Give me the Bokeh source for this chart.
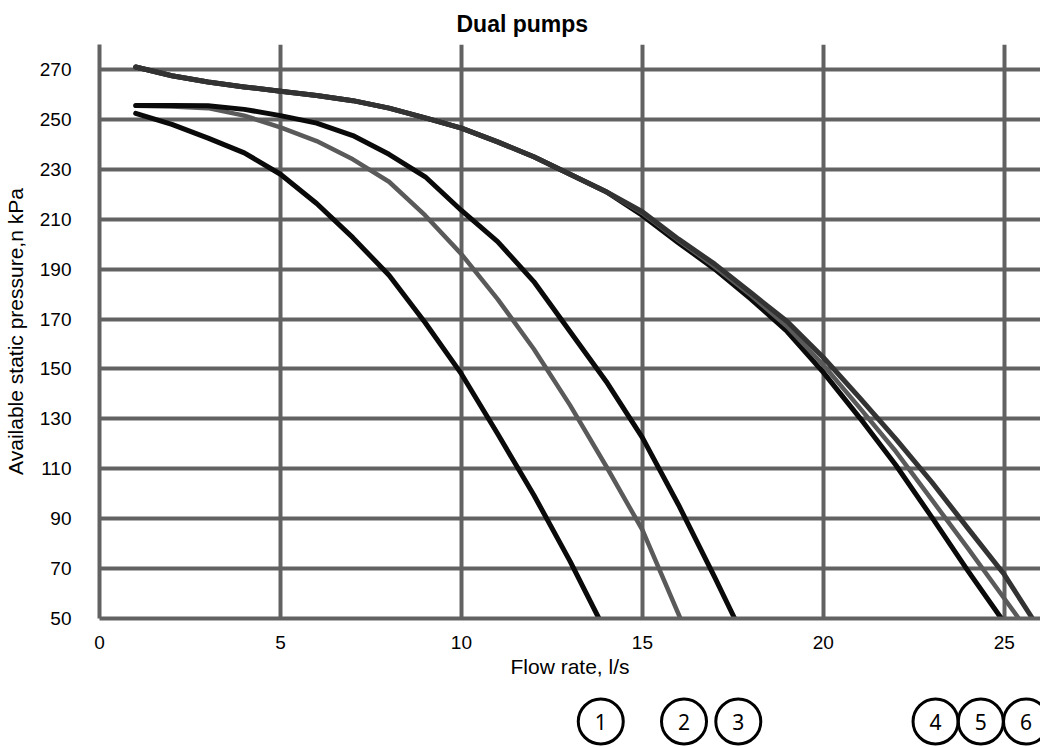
from bokeh.plotting import figure
from bokeh.models import FixedTicker, Range1d
from bokeh.layouts import column
from bokeh.embed import file_html
from bokeh.resources import INLINE
from bokeh.core.properties import value

# ---- data ----
x_ticks = [0, 5, 10, 15, 20, 25]
y_ticks = [50, 70, 90, 110, 130, 150, 170, 190, 210, 230, 250, 270]

flow_1 = [1, 2, 3, 4, 5, 6, 7, 8, 9, 10, 11, 12, 13, 13.8]
pres_1 = [252.4, 248, 242.5, 236.6, 228, 216.3, 202.6, 187.5, 168.5, 148, 124, 99.5, 73, 50]

flow_2 = [1, 2, 3, 4, 5, 6, 7, 8, 9, 10, 11, 12, 13, 14, 15, 16.05]
pres_2 = [255.5, 255.2, 254.5, 251.5, 246.8, 241.3, 234, 225, 211.5, 196, 178, 158, 135.5, 111, 85.5, 50]

flow_3 = [1, 2, 3, 4, 5, 6, 7, 8, 9, 10, 11, 12, 13, 14, 15, 16, 17, 17.55]
pres_3 = [255.6, 255.6, 255.5, 254, 251.5, 248.5, 243.5, 236, 227, 213.5, 201, 185, 165, 145, 122.5, 95.5, 66.5, 50]

flow_4 = [1, 2, 3, 4, 5, 6, 7, 8, 9, 10, 11, 12, 13, 14, 15, 16, 17, 18, 19, 20, 21, 22, 23, 24, 24.92]
pres_4 = [271, 267.5, 265, 263, 261.3, 259.6, 257.5, 254.5, 250.6, 246.5, 241, 235, 228, 221,
          211.5, 200.5, 190, 178, 165, 148.6, 130.5, 111.5, 90.5, 69, 50]

flow_5 = [1, 2, 3, 4, 5, 6, 7, 8, 9, 10, 11, 12, 13, 14, 15, 16, 17, 18, 19, 20, 21, 22, 23, 24, 25, 25.4]
pres_5 = [271, 267.5, 265, 263, 261.3, 259.6, 257.5, 254.5, 250.6, 246.5, 241, 235, 228, 221,
          212.5, 201.5, 191, 179.5, 167, 151.6, 134.5, 117, 97.5, 78, 58, 50]

flow_6 = [1, 2, 3, 4, 5, 6, 7, 8, 9, 10, 11, 12, 13, 14, 15, 16, 17, 18, 19, 20, 21, 22, 23, 24, 25, 25.78]
pres_6 = [271, 267.5, 265, 263, 261.3, 259.6, 257.5, 254.5, 250.6, 246.5, 241, 235, 228, 221,
          213, 202, 192, 180.5, 169, 154.6, 138.5, 122, 104.6, 86, 67.6, 50]

curve_labels = ["1", "2", "3", "4", "5", "6"]
label_x = [13.85, 16.15, 17.65, 23.1, 24.35, 25.6]

GRID = "#626262"
FONT = "Liberation Sans"

p = figure(width=1040, height=682, x_range=Range1d(0, 26), y_range=Range1d(50, 280),
           output_backend="svg", toolbar_location=None,
           min_border_left=98, min_border_right=0, min_border_top=43, min_border_bottom=64)
p.outline_line_color = None
p.background_fill_color = "white"
p.border_fill_color = "white"

p.title.text = "Dual pumps"
p.title.align = "left"
p.title.offset = 357
p.title.text_font = FONT
p.title.text_font_size = "23px"
p.title.text_font_style = "bold"
p.title.text_color = "black"
p.title.standoff = 16

p.xaxis.ticker = FixedTicker(ticks=x_ticks)
p.yaxis.ticker = FixedTicker(ticks=y_ticks)
p.xgrid.ticker = FixedTicker(ticks=x_ticks)
p.ygrid.ticker = FixedTicker(ticks=y_ticks)
for g in (p.xgrid, p.ygrid):
    g.grid_line_color = GRID
    g.grid_line_width = 4
    g.grid_line_alpha = 1.0

for ax in (p.xaxis, p.yaxis):
    ax.axis_line_color = GRID
    ax.axis_line_width = 4
    ax.major_tick_line_color = None
    ax.minor_tick_line_color = None
    ax.major_label_text_font = FONT
    ax.major_label_text_font_size = "19px"
    ax.major_label_text_color = "black"
    ax.axis_label_text_font = FONT
    ax.axis_label_text_font_size = "21px"
    ax.axis_label_text_font_style = "normal"
    ax.axis_label_text_color = "black"

p.xaxis.axis_label = "Flow rate, l/s"
p.yaxis.axis_label = "Available static pressure,n kPa"
p.xaxis.major_label_standoff = 11
p.xaxis.axis_label_standoff = 3
p.yaxis.major_label_standoff = 22
p.yaxis.axis_label_standoff = 10

BLACK = "#0a0a0a"
GRAY = "#5a5a5a"
DARK = "#333333"
LW = 5

p.line(flow_1, pres_1, line_color=BLACK, line_width=LW, line_join="round", line_cap="round")
p.line(flow_2, pres_2, line_color=GRAY, line_width=LW - 0.5, line_join="round", line_cap="round")
p.line(flow_3, pres_3, line_color=BLACK, line_width=LW, line_join="round", line_cap="round")
p.line(flow_4, pres_4, line_color=BLACK, line_width=LW, line_join="round", line_cap="round")
p.line(flow_5, pres_5, line_color=GRAY, line_width=LW - 0.5, line_join="round", line_cap="round")
p.line(flow_6, pres_6, line_color=DARK, line_width=LW, line_join="round", line_cap="round")

# circled curve numbers below the axis
p2 = figure(width=1040, height=64, x_range=p.x_range, y_range=Range1d(0, 64),
            output_backend="svg", toolbar_location=None,
            min_border_left=98, min_border_right=0, min_border_top=0, min_border_bottom=0,
            x_axis_type=None, y_axis_type=None)
p2.outline_line_color = None
p2.grid.visible = False
p2.scatter(x=label_x, y=25, size=45, marker="circle", fill_color=None,
           line_color="black", line_width=3)
p2.text(x=label_x, y=25, text=curve_labels, text_align="center", text_baseline="middle",
        text_font=value("Noto Sans"), text_font_size="21px", text_color="black")

layout = column(p, p2, spacing=0)
open("out.html", "w").write(file_html(layout, INLINE))
